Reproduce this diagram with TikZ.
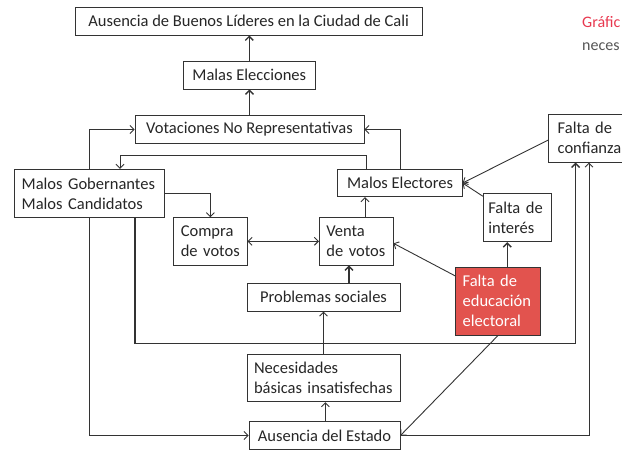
\documentclass[tikz,border=0pt]{standalone}
\usepackage{fontspec}
\setmainfont{Carlito}
\usetikzlibrary{arrows.meta}
\definecolor{linec}{HTML}{333333}
\definecolor{redbox}{HTML}{E2534E}
\definecolor{redtxt}{HTML}{E8384F}
\definecolor{graytxt}{HTML}{555555}
\begin{document}
\begin{tikzpicture}[x=1pt,y=-1pt,
  font=\fontsize{16.5}{20}\selectfont,
  box/.style={draw=linec, line width=0.9pt, inner sep=0pt, align=center, text=black!85},
  lbox/.style={box, align=left, inner xsep=7pt, inner ysep=0pt},
  ln/.style={draw=linec, line width=0.9pt, -{Straight Barb[length=4pt,width=8pt]}},
  lnk/.style={ln, line width=1.4pt},
  plain/.style={draw=linec, line width=0.9pt}]
\useasboundingbox (0,0) rectangle (622,451);

% nodes
\node[box, minimum width=346.5pt, minimum height=28pt] (lid) at (248.7,21) {Ausencia de Buenos Líderes en la Ciudad de Cali};
\node[box, minimum width=132.5pt, minimum height=28pt] (elec) at (249.3,75) {Malas Elecciones};
\node[box, minimum width=229pt, minimum height=27.6pt] (vot) at (249.5,129.5) {Votaciones No Representativas};
\node[lbox, text width=136pt, minimum height=48.4pt] (gob) at (89.7,193.5) {Malos Gobernantes\\Malos Candidatos};
\node[box, minimum width=124.3pt, minimum height=27.4pt] (mel) at (400,183) {Malos Electores};
\node[lbox, text width=59.2pt, minimum height=47.3pt] (com) at (210.4,241.3) {Compra\\de votos};
\node[lbox, text width=59.6pt, minimum height=47.3pt] (ven) at (356.2,241.3) {Venta\\de votos};
\node[lbox, inner xsep=5pt, text width=58.4pt, minimum height=48.4pt] (int) at (517.5,217.5) {Falta de\\interés};
\node[lbox, inner xsep=9pt, text width=59.3pt, minimum height=47.7pt] (conf) at (587.35,138.2) {Falta de\\confianza};
\node[lbox, fill=redbox, text=white, text width=70.7pt, minimum height=67.7pt] (edu) at (498,301.2) {Falta de\\educación\\electoral};
\node[box, minimum width=153pt, minimum height=27.7pt] (prob) at (323.5,297.2) {Problemas sociales};
\node[lbox, text width=139pt, minimum height=47.7pt] (nec) at (323.5,377.9) {Necesidades\\básicas insatisfechas};
\node[box, minimum width=151pt, minimum height=27.6pt] (est) at (324.5,435.5) {Ausencia del Estado};

\node[anchor=base west, inner sep=0pt, text=redtxt, font=\fontsize{16}{20}\selectfont] (g1) at (582,27) {Gráfic};
\node[anchor=base west, inner sep=0pt, text=graytxt, font=\fontsize{16}{20}\selectfont] (g2) at (582,50) {neces};

% connectors
\draw[lnk] (elec.north) -- (elec.north |- lid.south);
\draw[lnk] (vot.north) -- (vot.north |- elec.south);
\draw[ln] (gob.north) |- (vot.west);
\draw[ln] (mel.north) |- (vot.east);
\draw[ln] ([xshift=-34pt]mel.north) -- ++(0,-13.3) -| ([xshift=30.3pt]gob.north);
\draw[ln] (gob.east) -| (com.north);
\draw[ln, {Straight Barb[length=4pt,width=8pt]}-{Straight Barb[length=4pt,width=8pt]}] (com.east) -- (ven.west);
\draw[ln] ([xshift=8.8pt]ven.north) -- ([xshift=8.8pt]ven.north |- mel.south);
\draw[lnk] ([xshift=25.5pt]prob.north) -- ([xshift=25.5pt]prob.north |- ven.south);
\draw[ln] (nec.north) -- (prob.south);
\draw[ln] ([xshift=0.9pt]est.north) -- ([xshift=0.9pt]est.north |- nec.south);
\draw[ln] ([yshift=-9pt]edu.north west) -- ([yshift=-2pt]ven.east);
\draw[lnk] ([xshift=9.3pt]edu.north) -- ([xshift=9.3pt]edu.north |- int.south);
\draw[ln] ([yshift=-3.4pt]int.north west) -- (mel.east);
\draw[ln] ([yshift=-1.8pt]conf.west) -- (mel.east);
\draw[ln] (edu.south) -- (est.east);
\draw[lnk] ([xshift=45.3pt]gob.south) -- ++(0,125.6) -| ([xshift=-11.65pt]conf.south);
\draw[ln] (gob.south) |- (est.west);
\draw[ln] (est.east) -| ([xshift=1.65pt]conf.south);
\end{tikzpicture}
\end{document}
